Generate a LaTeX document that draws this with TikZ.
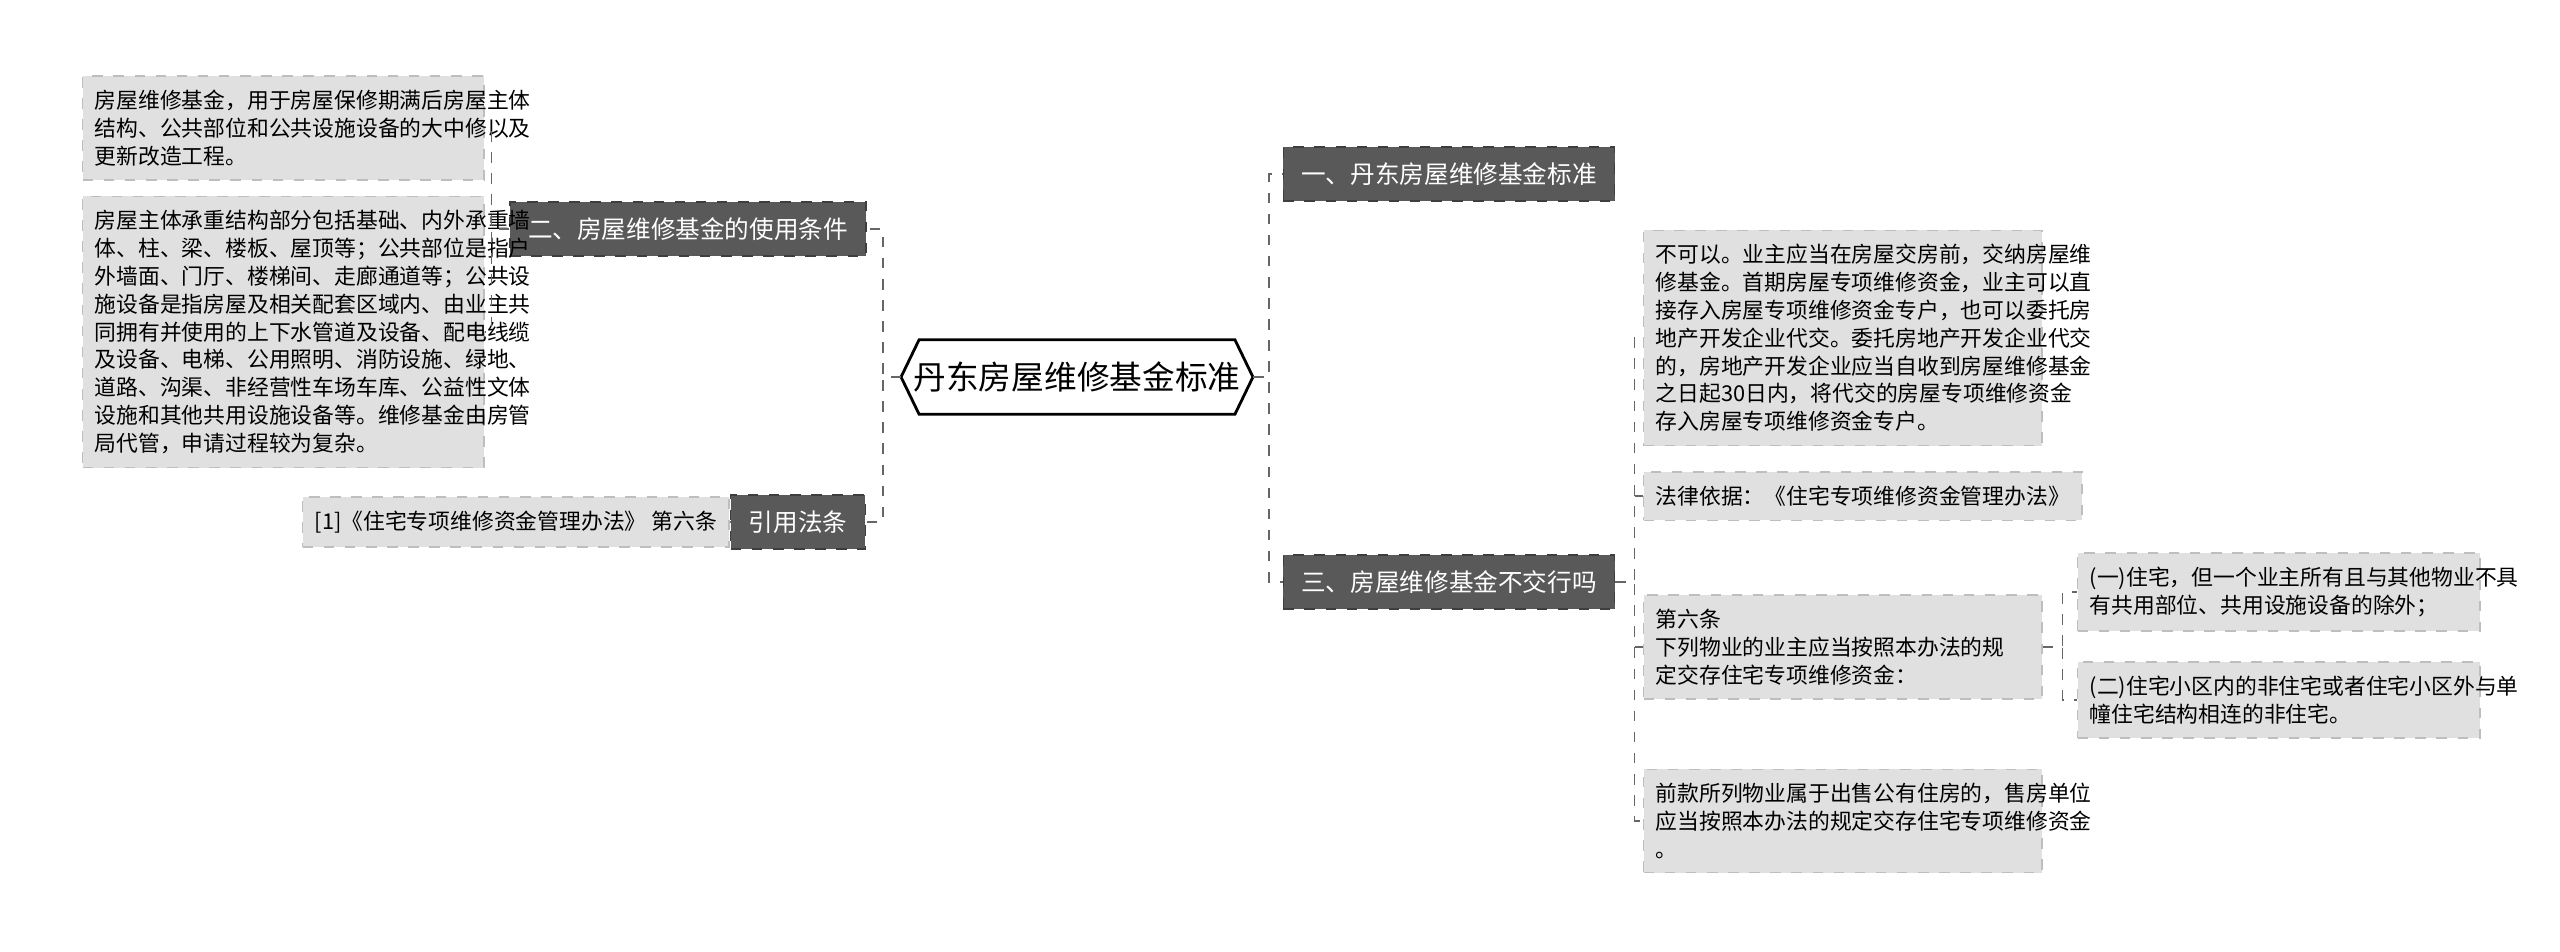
\documentclass[tikz,border=0pt]{standalone}
\usepackage{fontspec}
\setmainfont{Noto Sans CJK SC}
\usetikzlibrary{positioning}
\definecolor{darkbox}{HTML}{595959}
\definecolor{leafbox}{HTML}{E0E0E0}
\definecolor{linegray}{HTML}{666666}
\tikzset{
  topic/.style={fill=darkbox,draw=darkbox!70!black,dashed,text=white,font=\fontsize{7}{8.5}\selectfont,inner xsep=0.18cm,minimum height=0.54cm},
  leaf/.style={fill=leafbox,draw=leafbox!85!black,dashed,align=left,font=\fontsize{6.2}{7.9}\selectfont,inner xsep=0.12cm,inner ysep=0.14cm,anchor=west},
  link/.style={draw=linegray,dashed,thin}
}
\begin{document}
\begin{tikzpicture}[x=0.01cm,y=-0.01cm]
\useasboundingbox (0,0) rectangle (2560,951);
% root
\node[font=\fontsize{9.3}{11}\selectfont,minimum width=3.3cm,minimum height=0.73cm](root) at (1077,377){丹东房屋维修基金标准};
\draw[thick] (root.west) -- ([xshift=0.18cm]root.north west) -- ([xshift=-0.18cm]root.north east) -- (root.east) -- ([xshift=-0.18cm]root.south east) -- ([xshift=0.18cm]root.south west) -- cycle;
% topics
\node[topic](b1) at (1449,174){一、丹东房屋维修基金标准};
\node[topic](b3) at (1449,582){三、房屋维修基金不交行吗};
\node[topic](b2) at (688,229){二、房屋维修基金的使用条件};
\node[topic](b4) at (798,522){引用法条};
% left leaves
\node[leaf,text width=3.77cm](l1) at (82,128){房屋维修基金，用于房屋保修期满后房屋主体\\结构、公共部位和公共设施设备的大中修以及\\更新改造工程。};
\node[leaf,text width=3.77cm](l2) at (82,332){房屋主体承重结构部分包括基础、内外承重墙\\体、柱、梁、楼板、屋顶等；公共部位是指户\\外墙面、门厅、楼梯间、走廊通道等；公共设\\施设备是指房屋及相关配套区域内、由业主共\\同拥有并使用的上下水管道及设备、配电线缆\\及设备、电梯、公用照明、消防设施、绿地、\\道路、沟渠、非经营性车场车库、公益性文体\\设施和其他共用设施设备等。维修基金由房管\\局代管，申请过程较为复杂。};
\node[leaf,left=0.3 of b4,anchor=east](l3){[1]《住宅专项维修资金管理办法》 第六条};
% right leaves
\node[leaf,text width=3.74cm](r1) at (1643,338){不可以。业主应当在房屋交房前，交纳房屋维\\修基金。首期房屋专项维修资金，业主可以直\\接存入房屋专项维修资金专户，也可以委托房\\地产开发企业代交。委托房地产开发企业代交\\的，房地产开发企业应当自收到房屋维修基金\\之日起30日内，将代交的房屋专项维修资金\\存入房屋专项维修资金专户。};
\node[leaf](r2) at (1643,496){法律依据：《住宅专项维修资金管理办法》};
\node[leaf,text width=3.74cm](r3) at (1643,647){第六条 下列物业的业主应当按照本办法的规\\定交存住宅专项维修资金：};
\node[leaf,text width=3.74cm](r4) at (1643,821){前款所列物业属于出售公有住房的，售房单位\\应当按照本办法的规定交存住宅专项维修资金\\。};
\node[leaf,text width=3.78cm](s1) at (2077,592){(一)住宅，但一个业主所有且与其他物业不具\\有共用部位、共用设施设备的除外；};
\node[leaf,text width=3.78cm](s2) at (2077,700){(二)住宅小区内的非住宅或者住宅小区外与单\\幢住宅结构相连的非住宅。};
% connectors
\foreach \t in {b1,b3}
  \draw[link] (root.east) -- ++(16,0) |- (\t.west);
\foreach \t in {b2,b4}
  \draw[link] (root.west) -- ++(-18,0) |- (\t.east);
\foreach \t in {l1,l2}
  \draw[link] (b2.west) -- ++(-18,0) |- (\t.east);
\draw[link] (b4.west) -- (l3.east);
\foreach \t in {r1,r2,r3,r4}
  \draw[link] (b3.east) -- ++(19,0) |- (\t.west);
\foreach \t in {s1,s2}
  \draw[link] (r3.east) -- ++(20,0) |- (\t.west);
\end{tikzpicture}
\end{document}
